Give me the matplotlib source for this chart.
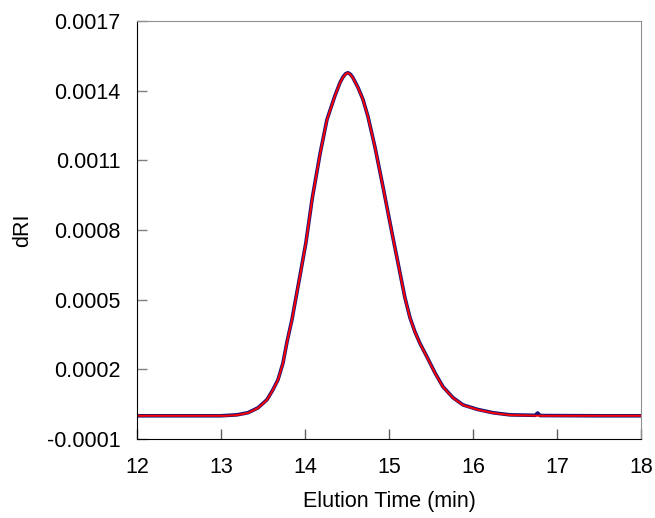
import matplotlib
matplotlib.use("Agg")
import matplotlib.pyplot as plt

plt.rcParams['font.family'] = ['Liberation Sans', 'DejaVu Sans']

# values (elution time in min, dRI)
time_red = [12.0, 12.5, 13.0, 13.048, 13.19, 13.321, 13.44, 13.548, 13.619, 13.679,
            13.738, 13.786, 13.845, 13.94, 14.012, 14.087, 14.179, 14.262, 14.357,
            14.417, 14.45, 14.485, 14.512, 14.54, 14.571, 14.631, 14.69, 14.75,
            14.833, 14.929, 15.036, 15.131, 15.19, 15.25, 15.31, 15.369, 15.452,
            15.548, 15.643, 15.762, 15.881, 16.048, 16.238, 16.44, 16.833, 17.5, 18.0]
dri_red = [0.0, 0.0, 0.0, 0.0, 0.000003, 0.000012, 0.000033, 0.000068, 0.000111,
           0.000154, 0.000225, 0.000316, 0.000412, 0.000600, 0.000745, 0.000935,
           0.001125, 0.001274, 0.001377, 0.001433, 0.001456, 0.001472, 0.001476,
           0.001470, 0.001455, 0.001413, 0.001362, 0.001288, 0.001157, 0.000985,
           0.000787, 0.000615, 0.000508, 0.000422, 0.000360, 0.000311, 0.000253,
           0.000184, 0.000124, 0.000077, 0.000046, 0.000027, 0.000012, 0.000003,
           0.0, 0.0, 0.0]

time_blue = [12.0, 12.5, 13.0, 13.048, 13.19, 13.321, 13.44, 13.548, 13.619, 13.679,
             13.738, 13.786, 13.845, 13.94, 14.012, 14.087, 14.179, 14.262, 14.357,
             14.417, 14.45, 14.485, 14.512, 14.54, 14.571, 14.631, 14.69, 14.75,
             14.833, 14.929, 15.036, 15.131, 15.19, 15.25, 15.31, 15.369, 15.452,
             15.548, 15.643, 15.762, 15.881, 16.048, 16.238, 16.44, 16.74, 16.77,
             16.8, 17.5, 18.0]
dri_blue = [0.0, 0.0, 0.0, 0.000001, 0.000004, 0.000013, 0.000034, 0.000069, 0.000112,
            0.000155, 0.000226, 0.000317, 0.000413, 0.000601, 0.000746, 0.000936,
            0.001126, 0.001275, 0.001378, 0.001434, 0.001457, 0.001473, 0.001477,
            0.001471, 0.001456, 0.001414, 0.001363, 0.001289, 0.001158, 0.000986,
            0.000788, 0.000616, 0.000509, 0.000423, 0.000361, 0.000312, 0.000254,
            0.000185, 0.000125, 0.000078, 0.000047, 0.000028, 0.000013, 0.000004,
            0.000002, 0.000012, 0.000001, 0.0, 0.0]

yticks = [-0.0001, 0.0002, 0.0005, 0.0008, 0.0011, 0.0014, 0.0017]
ytick_labels = ['-0.0001', '0.0002', '0.0005', '0.0008', '0.0011', '0.0014', '0.0017']
xticks = [12, 13, 14, 15, 16, 17, 18]

fig = plt.figure(figsize=(6.55, 5.18), dpi=100)
ax = fig.add_axes([0.209, 0.1525, 0.7696, 0.807])

ax.plot(time_blue, dri_blue, color='#14147a', lw=2.6, solid_joinstyle='round')
ax.plot(time_red, dri_red, color='#ff0000', lw=1.4, solid_joinstyle='round')

ax.set_xlim(12, 18)
ax.set_ylim(-0.0001, 0.0017)
ax.set_xticks(xticks)
ax.set_yticks(yticks)
ax.set_yticklabels(ytick_labels)
ax.tick_params(direction='in', length=7, width=1, labelsize=15.5, labelcolor='black')
ax.tick_params(axis='y', color='#808080', pad=12)
ax.tick_params(axis='x', color='#606060', pad=13)

for side in ['top', 'right']:
    ax.spines[side].set_color('#909090')
for side in ['left', 'bottom']:
    ax.spines[side].set_color('black')

ax.set_xlabel('Elution Time (min)', fontsize=15.5, labelpad=9)
ax.set_ylabel('dRI', fontsize=15.5, labelpad=10)

fig.savefig('out.png', dpi=100)
